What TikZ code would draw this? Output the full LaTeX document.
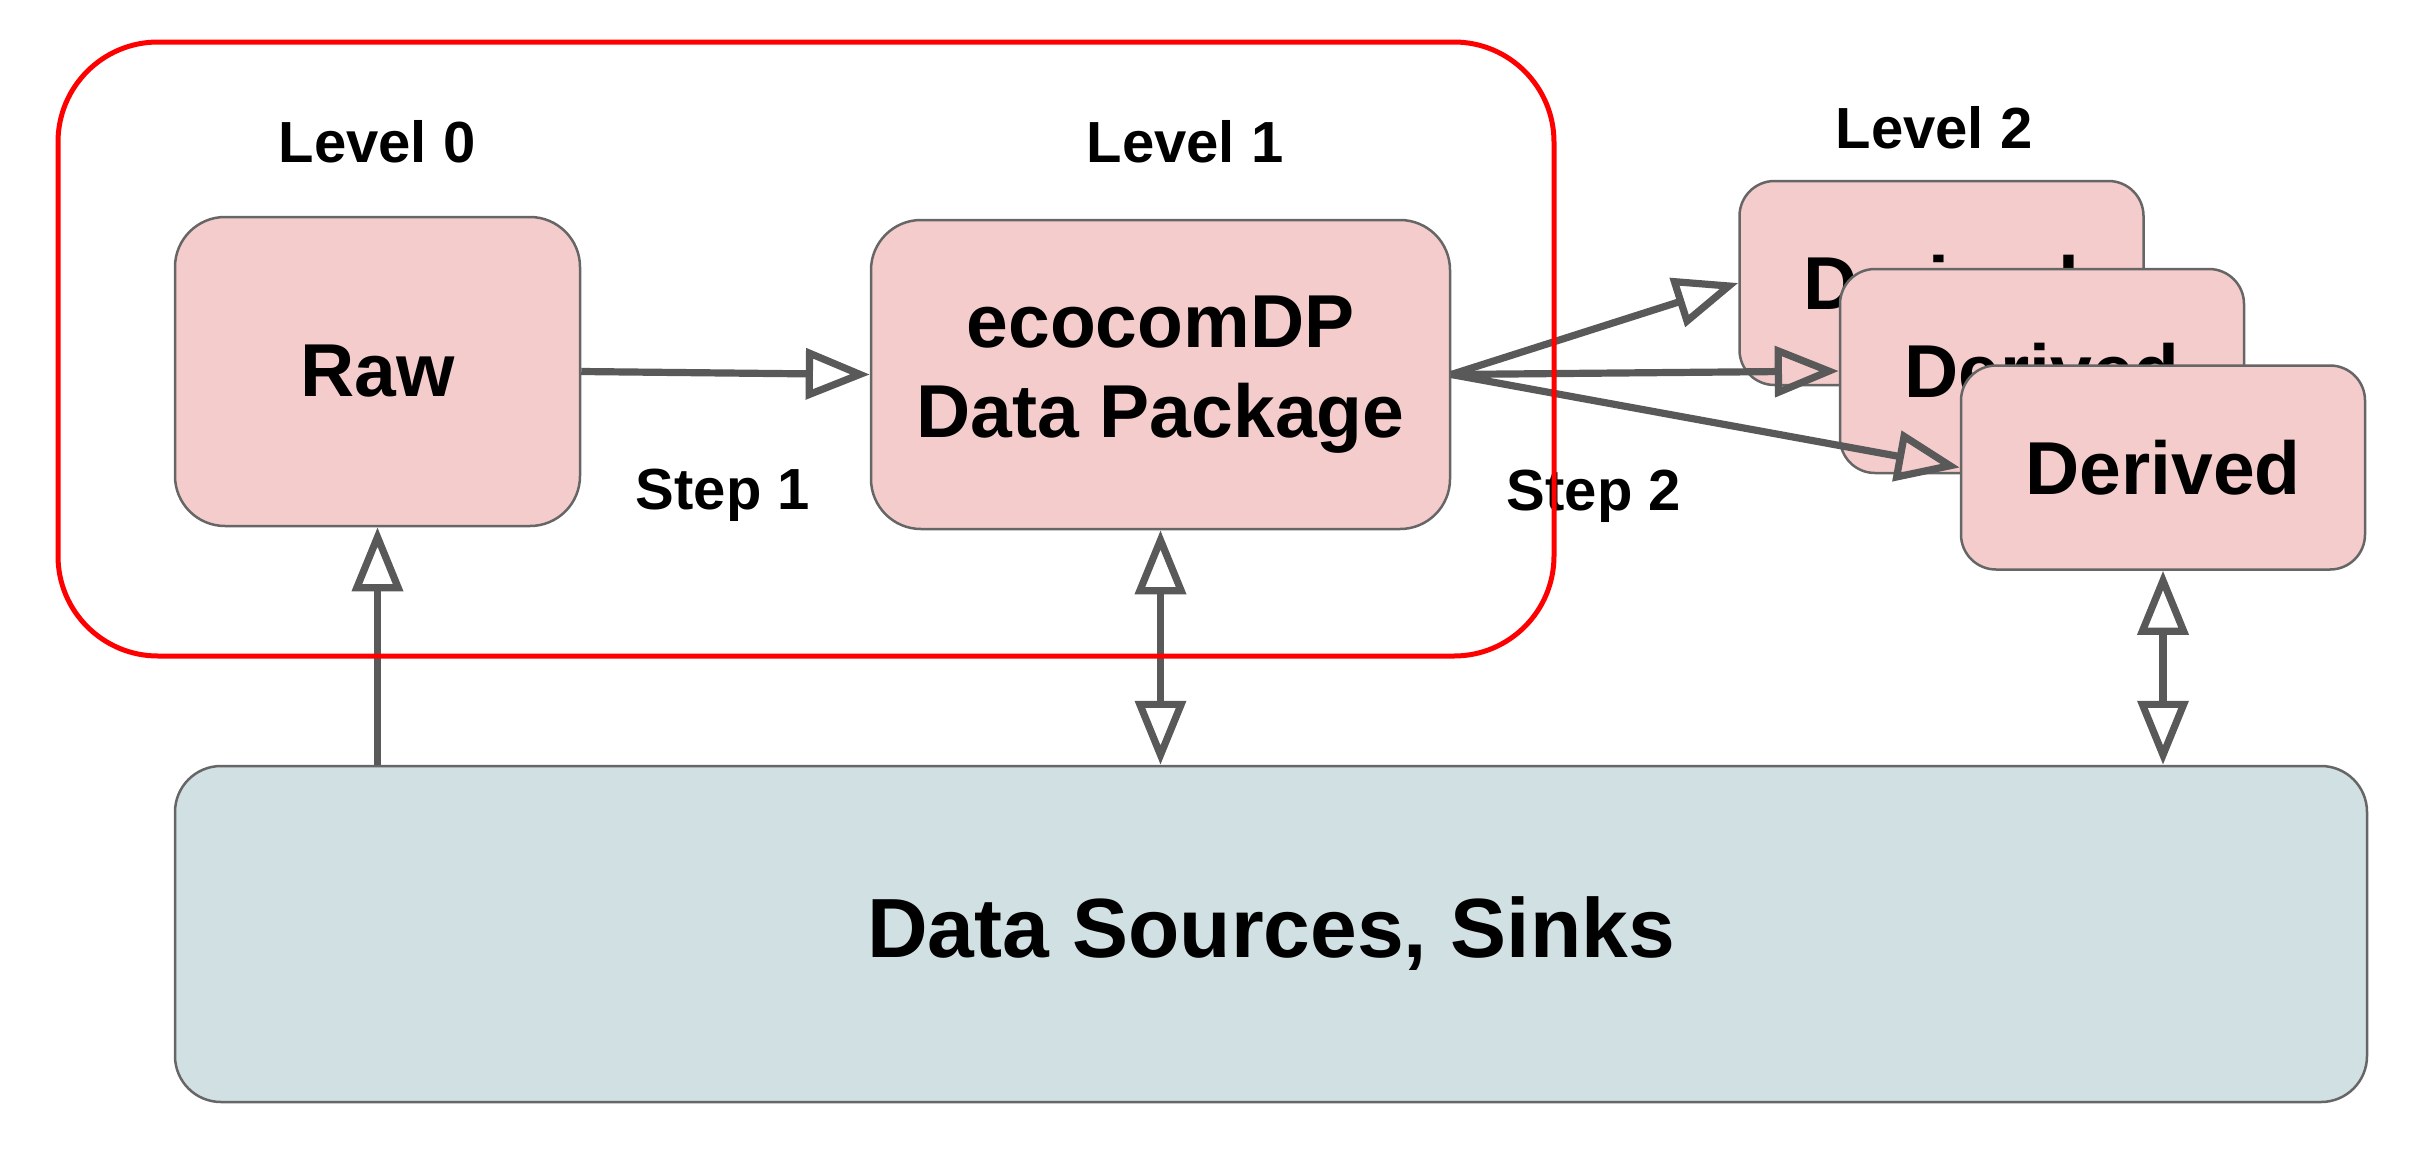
\documentclass[tikz,border=0pt]{standalone}
\usepackage{fontspec}
\setmainfont{Liberation Sans}
\usetikzlibrary{arrows.meta}
\definecolor{pinkfill}{HTML}{F4CCCC}
\definecolor{bluefill}{HTML}{D0E0E3}
\definecolor{boxline}{HTML}{666666}
\definecolor{arrowgray}{HTML}{595959}
\begin{document}
\begin{tikzpicture}[x=0.5pt,y=-0.5pt,
  box/.style={draw=boxline, line width=1.25pt, fill=pinkfill, rounded corners=25pt,
    font=\fontsize{37.5}{45}\selectfont\bfseries, align=center, inner sep=0pt},
  derivedbox/.style={box, minimum width=202pt, minimum height=102pt, rounded corners=17.5pt},
  lbl/.style={font=\fontsize{29}{34}\selectfont\bfseries, anchor=base, inner sep=0pt},
  opentip/.tip={Triangle[open, length=32pt, width=25pt]},
  conn/.style={draw=arrowgray, line width=3.6pt}
]
\useasboundingbox (0,0) rectangle (2426,1152);

\node[box, minimum width=202.5pt, minimum height=154.5pt] (raw) at (377.5,371.5) {Raw};
\node[box, minimum width=289.5pt, minimum height=154.5pt] (eco) at (1160.5,374.5) {ecocomDP\\Data Package};
\node[derivedbox] (dA) at (1941.5,283) {Derived};
\node[derivedbox] (dB) at (2042,371) {Derived};
\node[derivedbox] (dC) at (2163,467.5) {Derived};
\node[box, fill=bluefill, rounded corners=23pt, minimum width=1096pt, minimum height=168pt,
  font=\fontsize{42}{50}\selectfont\bfseries] (bot) at (1271,934) {Data Sources, Sinks};

\node[lbl] (l0) at (377,162) {Level 0};
\node[lbl] (l1) at (1185,162) {Level 1};
\node[lbl] (l2) at (1934,148) {Level 2};
\node[lbl] (s1) at (723,509) {Step 1};
\node[lbl] (s2) at (1594,510) {Step 2};

\draw[conn, -opentip] (raw.east) -- (eco.west);
\draw[conn, -opentip] (eco.east) -- (dA.west);
\draw[conn, -opentip] (eco.east) -- (dB.west);
\draw[conn, -opentip] (eco.east) -- (dC.west);
\draw[conn, -opentip] (raw.south |- bot.north) -- (raw.south);
\draw[conn, opentip-opentip] (eco.south) -- (eco.south |- bot.north);
\draw[conn, opentip-opentip] (dC.south) -- (dC.south |- bot.north);

\node[draw=red, line width=2.5pt, rounded corners=50pt, minimum width=748pt, minimum height=307pt, inner sep=0pt] (grp) at (806,349) {};
\end{tikzpicture}
\end{document}
